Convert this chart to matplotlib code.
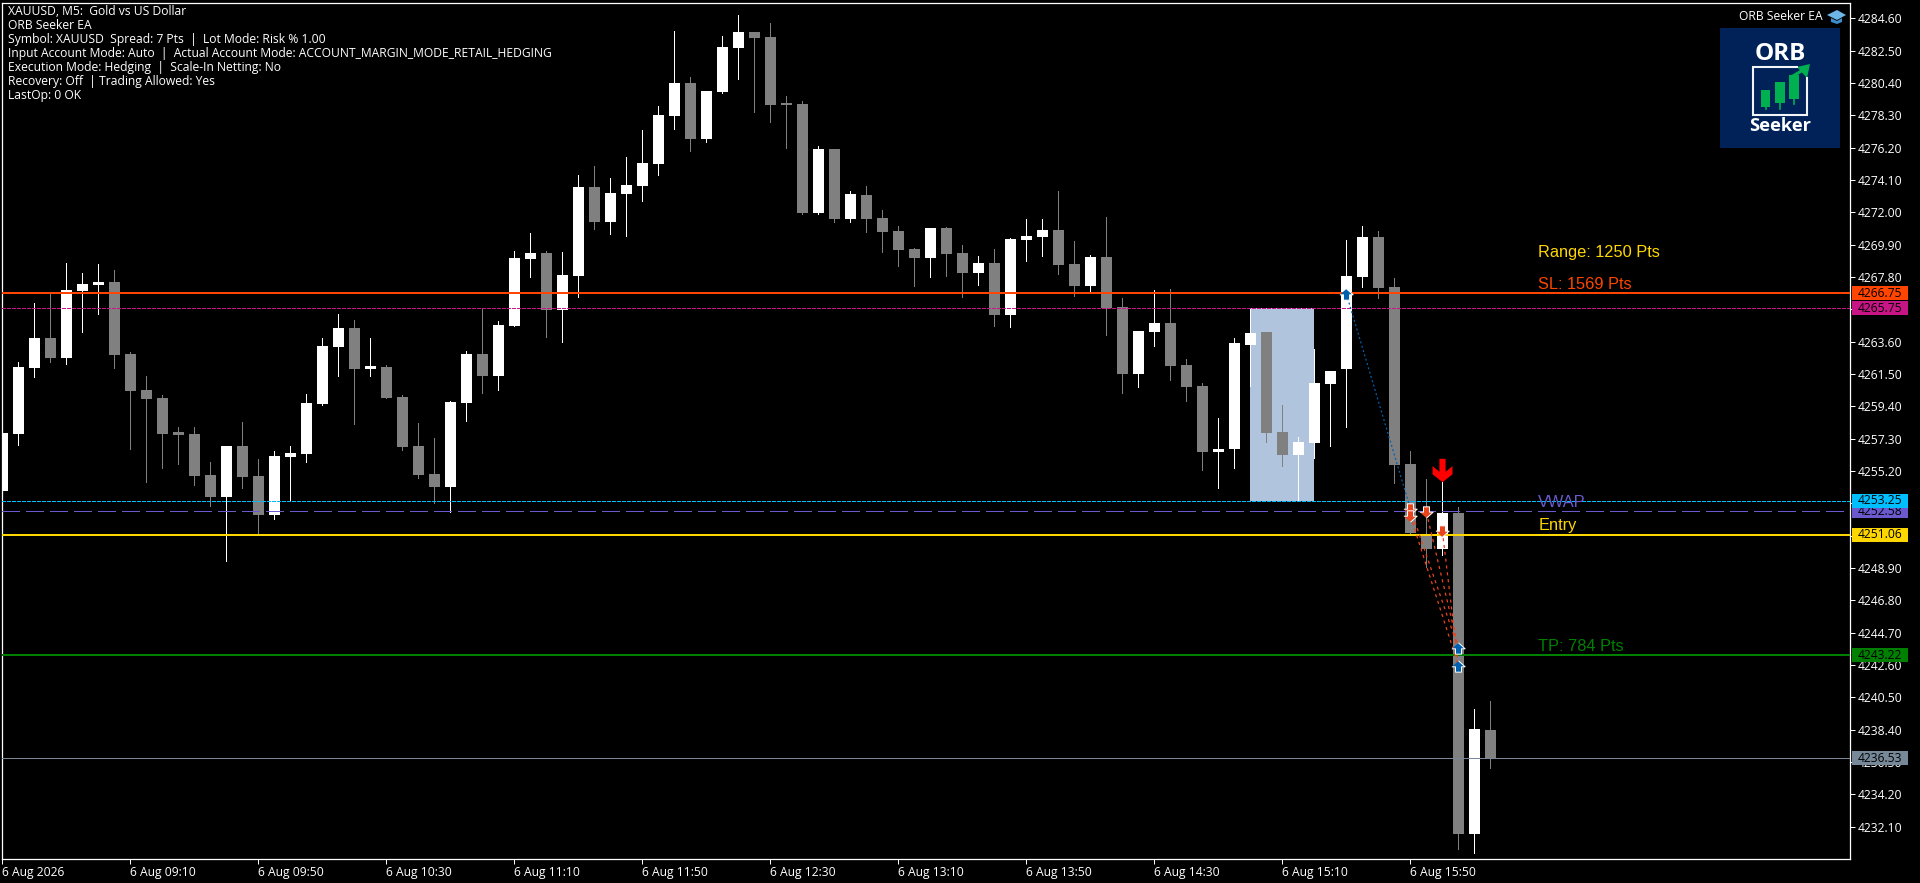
import matplotlib
matplotlib.use("Agg")
import numpy as np
import matplotlib.pyplot as plt
from matplotlib.patches import Rectangle, Polygon
from matplotlib.transforms import blended_transform_factory

# M5 candles
opens = [4253.90, 4257.62, 4261.91, 4263.83, 4262.56, 4266.88, 4267.27, 4267.47, 4262.79, 4260.46,
         4259.94, 4257.64, 4257.62, 4254.94, 4253.53, 4256.82, 4254.87, 4252.36, 4256.13, 4256.30,
         4259.55, 4263.27, 4264.48, 4261.84, 4261.95, 4260.02, 4256.82, 4255.00, 4254.18, 4259.61,
         4262.79, 4261.39, 4264.63, 4268.98, 4269.35, 4265.67, 4267.88, 4273.64, 4271.39, 4273.18,
         4273.70, 4275.13, 4278.25, 4280.39, 4276.75, 4279.81, 4282.66, 4283.70, 4283.38, 4279.03,
         4279.03, 4271.95, 4276.10, 4271.56, 4273.12, 4271.62, 4270.78, 4269.61, 4269.03, 4270.97,
         4269.35, 4268.05, 4268.70, 4265.33, 4270.20, 4270.39, 4270.84, 4268.64, 4267.21, 4269.09,
         4265.84, 4261.49, 4264.22, 4264.81, 4262.08, 4260.72, 4256.45, 4256.62, 4263.38, 4264.22,
         4257.73, 4256.23, 4257.01, 4260.84, 4261.82, 4267.79, 4270.39, 4267.14, 4255.65, 4251.10,
         4250.13, 4252.47, 4231.65, 4238.38]
highs = [4257.68, 4262.25, 4266.10, 4266.73, 4268.70, 4268.05, 4268.64, 4268.25, 4262.92, 4261.36,
         4260.11, 4258.05, 4258.05, 4255.78, 4256.82, 4258.38, 4255.97, 4256.49, 4256.82, 4260.20,
         4263.83, 4265.39, 4265.00, 4263.83, 4262.08, 4260.11, 4258.31, 4257.34, 4259.74, 4262.99,
         4265.74, 4264.94, 4269.48, 4270.65, 4269.48, 4269.42, 4274.42, 4275.00, 4274.22, 4275.59,
         4277.34, 4278.90, 4283.77, 4280.78, 4279.87, 4283.44, 4284.81, 4283.70, 4284.29, 4279.55,
         4279.22, 4276.30, 4276.10, 4273.38, 4273.70, 4272.14, 4271.10, 4269.68, 4270.97, 4271.04,
         4269.87, 4269.16, 4269.61, 4270.33, 4271.56, 4271.56, 4273.38, 4270.13, 4269.22, 4271.69,
         4266.43, 4264.29, 4266.95, 4267.01, 4262.47, 4260.91, 4258.64, 4263.83, 4265.74, 4264.22,
         4259.48, 4257.40, 4263.12, 4261.69, 4270.20, 4271.10, 4270.78, 4267.73, 4256.49, 4254.68,
         4254.50, 4252.86, 4239.74, 4240.26]
lows = [4253.90, 4256.88, 4261.32, 4262.30, 4262.17, 4264.24, 4265.41, 4261.91, 4256.65, 4254.50,
        4255.41, 4255.67, 4254.31, 4252.94, 4249.37, 4254.11, 4251.15, 4252.10, 4253.23, 4255.78,
        4259.48, 4261.39, 4258.27, 4261.39, 4259.96, 4256.58, 4254.76, 4253.10, 4252.51, 4258.46,
        4260.28, 4260.48, 4264.63, 4267.81, 4263.92, 4263.59, 4266.52, 4270.93, 4270.61, 4270.48,
        4272.73, 4274.42, 4277.40, 4275.97, 4276.56, 4279.74, 4280.65, 4278.51, 4277.86, 4276.17,
        4271.88, 4271.88, 4271.36, 4271.36, 4270.72, 4269.42, 4268.51, 4267.21, 4267.79, 4267.86,
        4266.49, 4267.27, 4264.61, 4264.55, 4268.83, 4269.16, 4267.99, 4266.56, 4266.88, 4264.03,
        4260.26, 4260.65, 4263.31, 4261.10, 4259.74, 4255.28, 4254.11, 4255.41, 4260.72, 4257.08,
        4255.52, 4253.25, 4256.04, 4256.82, 4258.05, 4267.14, 4266.43, 4254.42, 4251.17, 4248.98,
        4249.74, 4230.65, 4230.41, 4235.93]
closes = [4257.68, 4261.95, 4263.83, 4262.56, 4266.95, 4267.34, 4267.47, 4262.75, 4260.41, 4259.89,
          4257.62, 4257.56, 4254.89, 4253.53, 4256.82, 4254.83, 4252.36, 4256.17, 4256.36, 4259.61,
          4263.31, 4264.48, 4261.84, 4262.01, 4259.96, 4256.78, 4254.96, 4254.18, 4259.68, 4262.79,
          4261.39, 4264.68, 4269.03, 4269.35, 4265.67, 4267.92, 4273.64, 4271.39, 4273.25, 4273.77,
          4275.20, 4278.31, 4280.39, 4276.75, 4279.87, 4282.73, 4283.70, 4283.31, 4278.96, 4278.96,
          4271.95, 4276.10, 4271.56, 4273.18, 4271.56, 4270.72, 4269.55, 4269.03, 4270.97, 4269.29,
          4268.05, 4268.70, 4265.33, 4270.26, 4270.46, 4270.84, 4268.57, 4267.21, 4269.09, 4265.78,
          4261.49, 4264.29, 4264.81, 4262.01, 4260.65, 4256.45, 4256.62, 4263.51, 4264.16, 4257.66,
          4256.23, 4257.08, 4260.91, 4261.69, 4267.86, 4270.39, 4267.08, 4255.59, 4251.17, 4250.13,
          4252.47, 4231.65, 4238.44, 4236.53]

tick_bars = [0, 8, 16, 24, 32, 40, 48, 56, 64, 72, 80, 88]
time_labels = ["6 Aug 2026", "6 Aug 09:10", "6 Aug 09:50", "6 Aug 10:30", "6 Aug 11:10", "6 Aug 11:50",
               "6 Aug 12:30", "6 Aug 13:10", "6 Aug 13:50", "6 Aug 14:30", "6 Aug 15:10", "6 Aug 15:50"]
price_ticks = [4284.60, 4282.50, 4280.40, 4278.30, 4276.20, 4274.10, 4272.00, 4269.90, 4267.80,
               4265.70, 4263.60, 4261.50, 4259.40, 4257.30, 4255.20, 4253.10, 4251.00, 4248.90,
               4246.80, 4244.70, 4242.60, 4240.50, 4238.40, 4236.30, 4234.20, 4232.10]

# horizontal levels
sl_level = 4266.75
range_high = 4265.75
range_low = 4253.25
vwap_level = 4252.58
entry_level = 4251.06
tp_level = 4243.22
bid_level = 4236.53

# opening range box, first and last bar
box_bars = [78, 82]

# trades
buy_bars = [84, 91, 91]
buy_prices = [4266.69, 4243.68, 4242.55]
sell_bars = [88, 88, 89, 90]
sell_prices = [4252.75, 4252.29, 4252.51, 4251.28]
signal_bar = 90
signal_price = 4255.24

chart_labels = ["Range: 1250 Pts", "SL: 1569 Pts", "VWAP", "Entry", "TP: 784 Pts"]
chart_label_prices = [4269.40, 4267.32, 4253.17, 4251.64, 4243.82]
chart_label_colors = ["#FFD700", "#FF4500", "#6A5ACD", "#FFD700", "#008000"]
label_bar = 96

info_lines = [
    "XAUUSD, M5:  Gold vs US Dollar",
    "ORB Seeker EA",
    "Symbol: XAUUSD  Spread: 7 Pts  |  Lot Mode: Risk % 1.00",
    "Input Account Mode: Auto  |  Actual Account Mode: ACCOUNT_MARGIN_MODE_RETAIL_HEDGING",
    "Execution Mode: Hedging  |  Scale-In Netting: No",
    "Recovery: Off  | Trading Allowed: Yes",
    "LastOp: 0 OK",
]

UI_FONT = "Open Sans"
UI_SIZE = 8.7
W, H = 1920, 883
GREY = "#808080"
BUY_BLUE = "#0060B0"
SELL_RED = "#E8441E"

fig = plt.figure(figsize=(W / 100, H / 100), dpi=100, facecolor="k")
ax = fig.add_axes([2.4 / W, 1 - 859.3 / H, (1850.3 - 2.4) / W, (859.3 - 2.5) / H], facecolor="k")
ax.set_xlim(0, (1850.3 - 2.4) / 16)
ax.set_ylim(4229.98, 4285.62)

for side in ax.spines.values():
    side.set_color("w")
    side.set_linewidth(0.9)

ax.add_patch(Rectangle((box_bars[0], range_low), box_bars[1] - box_bars[0], range_high - range_low,
                       facecolor="#B0C4DE", edgecolor="none", zorder=1))

bars = np.arange(len(opens))
o = np.array(opens)
c = np.array(closes)
bar_colors = ["w" if c[i] >= o[i] else GREY for i in bars]
ax.vlines(bars, lows, highs, colors=bar_colors, linewidth=0.72, zorder=3, antialiased=False)
ax.bar(bars, np.maximum(np.abs(c - o), 0.16), bottom=np.minimum(o, c), width=11 / 16, color=bar_colors,
       linewidth=0, zorder=4, antialiased=False)

# price levels
ax.axhline(sl_level, color="#FF4500", lw=1.44, zorder=5)
ax.axhline(range_high, color="#C71585", lw=0.72, ls=(0, (3, 2)), zorder=5, antialiased=False)
ax.axhline(range_low, color="#00BFFF", lw=0.72, ls=(0, (3, 2)), zorder=5, antialiased=False)
ax.axhline(vwap_level, color="#6A5ACD", lw=0.72, ls=(0, (18, 6)), zorder=5, antialiased=False)
ax.axhline(entry_level, color="#FFD700", lw=1.44, zorder=5)
ax.axhline(tp_level, color="#008000", lw=1.44, zorder=5)
ax.axhline(bid_level, color="#778899", lw=0.72, zorder=5)

# deal connectors
ax.plot([buy_bars[0], sell_bars[0]], [buy_prices[0], sell_prices[0]], color=BUY_BLUE, lw=0.9,
        ls=(0, (1.6, 2)), zorder=6)
for k, (sx, sp) in enumerate(zip(sell_bars, sell_prices)):
    ax.plot([sx, buy_bars[1]], [sp, buy_prices[1 + k % 2]], color=SELL_RED, lw=0.9, ls=(0, (2.5, 3)), zorder=6)

up_arrow = [(0, 0.85), (1, -0.05), (0.45, -0.05), (0.45, -0.85), (-0.45, -0.85), (-0.45, -0.05), (-1, -0.05)]
down_arrow = [(x, -y) for x, y in up_arrow]
ax.plot(buy_bars, buy_prices, ls="none", marker=up_arrow, ms=9.6, mfc=BUY_BLUE, mec="w", mew=0.72, zorder=7)
ax.plot(sell_bars, sell_prices, ls="none", marker=down_arrow, ms=9.6, mfc=SELL_RED, mec="w", mew=0.72, zorder=7)

signal_arrow = [(-0.31, 1.17), (0.31, 1.17), (0.31, -0.14), (1, 0.45), (1, -0.38), (0, -1.17),
                (-1, -0.38), (-1, 0.45), (-0.31, -0.14)]
ax.plot([signal_bar], [signal_price], ls="none", marker=signal_arrow, ms=16.8, mfc="#FF0000", mec="none", zorder=8)

for text, p, col in zip(chart_labels, chart_label_prices, chart_label_colors):
    ax.text(label_bar, p, text, color=col, family="Liberation Sans", fontsize=11.8, va="center", ha="left", zorder=9)

# axes ticks
ax.yaxis.tick_right()
ax.set_yticks(price_ticks)
ax.set_yticklabels([f"{p:.2f}" for p in price_ticks], family=UI_FONT, fontsize=UI_SIZE, color="w")
ax.set_xticks(tick_bars)
ax.set_xticklabels(time_labels, family=UI_FONT, fontsize=UI_SIZE, color="w", ha="left")
ax.tick_params(axis="both", color="w", length=3.6, width=0.72, pad=1.5)

# price badges on the right scale
badge_tr = blended_transform_factory(ax.transAxes, ax.transData)
badge_x = 1 + 2 / (1850.3 - 2.4)
badge_w = 56 / (1850.3 - 2.4)
badge_h = 14 / 15.4
badge_prices = [sl_level, range_high, vwap_level, range_low, entry_level, tp_level, bid_level]
badge_colors = ["#FF4500", "#C71585", "#6A5ACD", "#00BFFF", "#FFD700", "#008000", "#778899"]
for i, (p, col) in enumerate(zip(badge_prices, badge_colors)):
    ax.add_patch(Rectangle((badge_x, p - badge_h / 2), badge_w, badge_h, transform=badge_tr, facecolor=col,
                           edgecolor="none", clip_on=False, zorder=10 + i))
    ax.text(badge_x + 5 / (1850.3 - 2.4), p, f"{p:.2f}", transform=badge_tr, color="k", family=UI_FONT,
            fontsize=UI_SIZE, va="center", ha="left", clip_on=False, zorder=10 + i)

# overlay in screen pixels for the info text and the logo
over = fig.add_axes([0, 0, 1, 1], facecolor="none")
over.set_xlim(0, W)
over.set_ylim(H, 0)
over.axis("off")

for k, line in enumerate(info_lines):
    over.text(8, 11.7 + 14 * k, line, color="w", family=UI_FONT, fontsize=UI_SIZE, va="center", ha="left")
over.text(1823, 16.5, "ORB Seeker EA", color="w", family=UI_FONT, fontsize=UI_SIZE, va="center", ha="right")

# graduation cap
over.add_patch(Polygon([(1827, 15), (1837, 10), (1846, 15), (1837, 20)], facecolor="#6DB6E8", edgecolor="none"))
over.add_patch(Polygon([(1831, 18), (1837, 21), (1842, 18), (1842, 22), (1837, 24), (1831, 22)],
                       facecolor="#3F8CC8", edgecolor="none"))

# logo box
lx, ly = 1720, 28
over.add_patch(Rectangle((lx, ly), 120, 120, facecolor="#002259", edgecolor="none"))
over.text(lx + 60, ly + 26, "ORB", color="w", family="Open Sans", weight="bold", fontsize=17.5, ha="center", va="center")
over.text(lx + 60, ly + 98, "Seeker", color="w", family="Open Sans", weight="bold", fontsize=13.2, ha="center", va="center")
over.plot([lx + 76.7, lx + 32.7, lx + 32.7, lx + 86.7, lx + 86.7],
          [ly + 38.7, ly + 38.7, ly + 86.7, ly + 86.7, ly + 50], color="#F2F4F8", lw=1.5, solid_joinstyle="miter")
logo_green = "#00B050"
for x0, x1, y0, y1, yw in [(41, 50.3, 61.7, 78.7, 81.3), (55, 65, 54, 75.3, 80.7), (69.3, 79, 46.7, 70.7, 76)]:
    over.add_patch(Rectangle((lx + x0, ly + y0), x1 - x0, y1 - y0, facecolor=logo_green, edgecolor="none"))
    over.plot([lx + (x0 + x1) / 2] * 2, [ly + y1, ly + yw], color=logo_green, lw=1.2)
over.plot([lx + 73, lx + 83], [ly + 48, ly + 42], color=logo_green, lw=2.2)
over.add_patch(Polygon([(lx + 90, ly + 36), (lx + 77, ly + 39), (lx + 87, ly + 50)], facecolor=logo_green, edgecolor="none"))

fig.savefig("out.png", dpi=100, facecolor="k")
